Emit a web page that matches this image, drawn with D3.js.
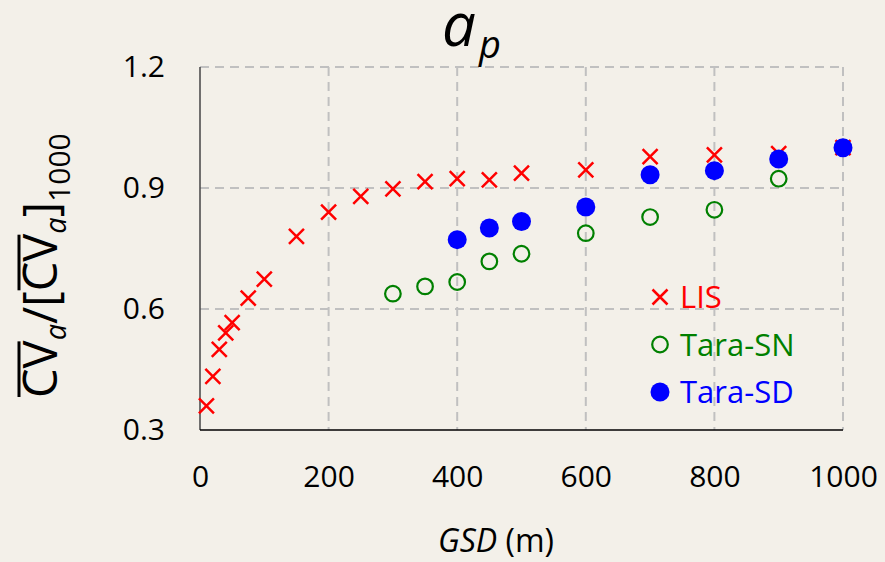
<!DOCTYPE html>
<html>
<head>
<meta charset="utf-8">
<script src="https://cdn.jsdelivr.net/npm/d3@7"></script>
<style>
  body { margin: 0; background: #f3f0e9; }
  svg { display: block; }
  text { font-family: "Open Sans", sans-serif; }
</style>
</head>
<body>
<svg id="chart" width="885" height="562"></svg>
<script>
// values
var gsdLIS = [10, 20, 30, 40, 50, 75, 100, 150, 200, 250, 300, 350, 400, 450, 500, 600, 700, 800, 900, 1000];
var cvLIS  = [0.36, 0.433, 0.50, 0.541, 0.566, 0.627, 0.674, 0.780, 0.840, 0.879, 0.898, 0.916, 0.923, 0.920, 0.937, 0.945, 0.978, 0.982, 0.985, 1.0];

var gsdSN = [300, 350, 400, 450, 500, 600, 700, 800, 900, 1000];
var cvSN  = [0.638, 0.656, 0.667, 0.718, 0.737, 0.788, 0.828, 0.846, 0.923, 1.0];

var gsdSD = [400, 450, 500, 600, 700, 800, 900, 1000];
var cvSD  = [0.772, 0.801, 0.817, 0.853, 0.933, 0.943, 0.972, 1.0];

var xTicks = [0, 200, 400, 600, 800, 1000];
var yTicks = [0.3, 0.6, 0.9, 1.2];

var seriesNames = ["LIS", "Tara-SN", "Tara-SD"];
var seriesColors = ["#ff0000", "#008000", "#0000ff"];

var svg = d3.select("#chart");

var x = d3.scaleLinear().domain([0, 1000]).range([200, 843]);
var y = d3.scaleLinear().domain([0.3, 1.2]).range([430, 67]);

// grid
var grid = svg.append("g");
grid.selectAll(".vg")
    .data(xTicks.slice(1))
    .enter().append("line")
    .attr("x1", function (d) { return x(d); })
    .attr("x2", function (d) { return x(d); })
    .attr("y1", y(1.2)).attr("y2", y(0.3))
    .attr("stroke", "#c0c0c0").attr("stroke-width", 2)
    .attr("stroke-dasharray", "9,6");
grid.selectAll(".hg")
    .data(yTicks.slice(1))
    .enter().append("line")
    .attr("x1", x(0)).attr("x2", x(1000))
    .attr("y1", function (d) { return y(d); })
    .attr("y2", function (d) { return y(d); })
    .attr("stroke", "#c0c0c0").attr("stroke-width", 2)
    .attr("stroke-dasharray", "9,6");

// axis lines
svg.append("line")
    .attr("x1", x(0)).attr("x2", x(0))
    .attr("y1", y(1.2)).attr("y2", y(0.3))
    .attr("stroke", "#444").attr("stroke-width", 1.5);
svg.append("line")
    .attr("x1", x(0)).attr("x2", x(1000))
    .attr("y1", y(0.3)).attr("y2", y(0.3))
    .attr("stroke", "#000").attr("stroke-width", 1.5);

// tick labels
var yAxis = svg.append("g")
    .attr("transform", "translate(" + x(0) + ",0)")
    .call(d3.axisLeft(y).tickValues(yTicks).tickFormat(d3.format(".1f")).tickSize(0).tickPadding(35));
var xAxis = svg.append("g")
    .attr("transform", "translate(0," + y(0.3) + ")")
    .call(d3.axisBottom(x).tickValues(xTicks).tickFormat(d3.format("d")).tickSize(0).tickPadding(36));
[yAxis, xAxis].forEach(function (a) {
    a.select(".domain").remove();
    a.selectAll("text")
        .attr("font-family", "Open Sans, sans-serif")
        .style("font-size", "30px")
        .attr("fill", "#000");
});

// markers
function cross(g, cx, cy, r, color) {
    g.append("path")
        .attr("d", "M" + (cx - r) + "," + (cy - r) + "L" + (cx + r) + "," + (cy + r) +
                   "M" + (cx - r) + "," + (cy + r) + "L" + (cx + r) + "," + (cy - r))
        .attr("stroke", color).attr("stroke-width", 2.5).attr("fill", "none");
}

var marks = svg.append("g");
gsdLIS.forEach(function (g, i) {
    cross(marks, x(g), y(cvLIS[i]), 7.5, seriesColors[0]);
});
marks.selectAll(".sn")
    .data(gsdSN)
    .enter().append("circle")
    .attr("cx", function (d) { return x(d); })
    .attr("cy", function (d, i) { return y(cvSN[i]); })
    .attr("r", 7.8)
    .attr("fill", "none")
    .attr("stroke", seriesColors[1]).attr("stroke-width", 2.2);
marks.selectAll(".sd")
    .data(gsdSD)
    .enter().append("circle")
    .attr("cx", function (d) { return x(d); })
    .attr("cy", function (d, i) { return y(cvSD[i]); })
    .attr("r", 9.5)
    .attr("fill", seriesColors[2]);

// legend
var legend = svg.append("g").attr("transform", "translate(660,297)");
seriesNames.forEach(function (name, i) {
    var row = legend.append("g").attr("transform", "translate(0," + (i * 47.5) + ")");
    if (i === 0) cross(row, 0, 0, 7.5, seriesColors[0]);
    if (i === 1) row.append("circle").attr("r", 7.8).attr("fill", "none")
        .attr("stroke", seriesColors[1]).attr("stroke-width", 2.2);
    if (i === 2) row.append("circle").attr("r", 9.5).attr("fill", seriesColors[2]);
    row.append("text")
        .attr("x", 20).attr("y", 11)
        .style("font-size", "31px")
        .attr("fill", seriesColors[i])
        .text(name);
});

// title a_p
var title = svg.append("text").attr("x", 442).attr("y", 46).attr("fill", "#000");
title.append("tspan").attr("font-style", "italic").style("font-size", "60px").text("a");
title.append("tspan").attr("font-style", "italic").style("font-size", "38px").attr("dx", 3).attr("dy", 12).text("p");

// x label
var xl = svg.append("text").attr("x", 496).attr("y", 552)
    .attr("text-anchor", "middle").style("font-size", "32px").attr("fill", "#000");
xl.append("tspan").attr("font-style", "italic").text("GSD");
xl.append("tspan").text(" (m)");

// y label with overbars
var yl = svg.append("g").attr("transform", "translate(57,398) rotate(-90)");
var yt = yl.append("text").attr("x", 0).attr("y", 0).style("font-size", "47px").attr("fill", "#000");
var parts = [
    { t: "CV", bar: true },
    { t: "a", sub: true },
    { t: "/[" },
    { t: "CV", bar: true },
    { t: "a", sub: true },
    { t: "]" },
    { t: "1000", sub: true, num: true }
];
var curDy = 0;
parts.forEach(function (p) {
    var s = yt.append("tspan").text(p.t);
    var target = p.sub ? (p.num ? 13 : 9) : 0;
    s.attr("dy", target - curDy);
    curDy = target;
    if (p.sub) s.style("font-size", p.num ? "30px" : "29px");
    if (p.sub && !p.num) s.attr("font-style", "italic");
});
// overbars measured from rendered glyphs
var node = yt.node();
var idx = 0;
parts.forEach(function (p) {
    if (p.bar) {
        var a = node.getExtentOfChar(idx);
        var b = node.getExtentOfChar(idx + p.t.length - 1);
        yl.append("line")
            .attr("x1", a.x + 1).attr("x2", b.x + b.width - 1)
            .attr("y1", -38).attr("y2", -38)
            .attr("stroke", "#000").attr("stroke-width", 3);
    }
    idx += p.t.length;
});
</script>
</body>
</html>
